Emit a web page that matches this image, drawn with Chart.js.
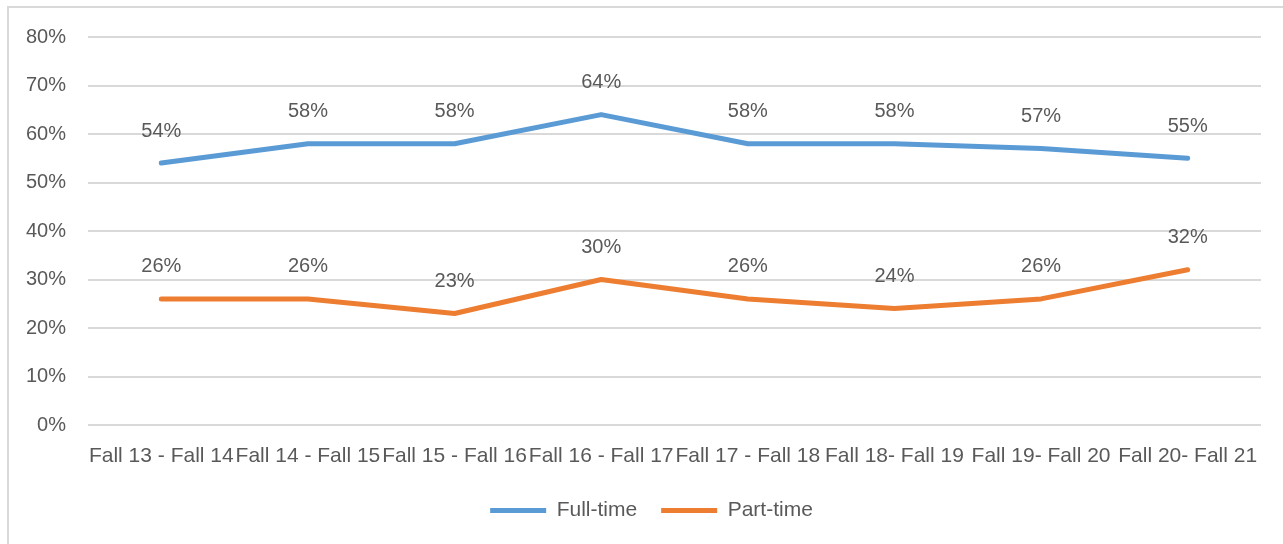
<!DOCTYPE html>
<html>
<head>
<meta charset="utf-8">
<script src="https://cdn.jsdelivr.net/npm/chart.js@4/dist/chart.umd.min.js"></script>
<style>
  html, body { margin: 0; padding: 0; background: #fff; overflow: hidden; }
  #wrap { position: relative; width: 1283px; height: 544px; }
  #frame { position: absolute; left: 7px; top: 6px; width: 1300px; height: 600px; border: 2px solid #D9D9D9; box-sizing: border-box; }
  canvas { position: absolute; left: 0; top: 0; }
</style>
</head>
<body>
<div id="wrap">
  <div id="frame"></div>
  <canvas id="c" width="1283" height="544"></canvas>
</div>
<script>
const categories = ["Fall 13 - Fall 14", "Fall 14 - Fall 15", "Fall 15 - Fall 16", "Fall 16 - Fall 17", "Fall 17 - Fall 18", "Fall 18- Fall 19", "Fall 19- Fall 20", "Fall 20- Fall 21"];
const fullTime = [54, 58, 58, 64, 58, 58, 57, 55];
const partTime = [26, 26, 23, 30, 26, 24, 26, 32];
const seriesNames = ["Full-time", "Part-time"];

const TEXT = "#595959";
const FONT = "'Liberation Sans', Arial, sans-serif";

const dataLabels = {
  id: "dataLabels",
  afterDatasetsDraw(chart) {
    const ctx = chart.ctx;
    ctx.save();
    ctx.font = "20px " + FONT;
    ctx.fillStyle = TEXT;
    ctx.textAlign = "center";
    ctx.textBaseline = "middle";
    chart.data.datasets.forEach((ds, i) => {
      const meta = chart.getDatasetMeta(i);
      meta.data.forEach((pt, j) => {
        ctx.fillText(ds.data[j] + "%", pt.x, pt.y - 32);
      });
    });
    ctx.restore();
  }
};

const legendShift = {
  id: "legendShift",
  afterLayout(chart) {
    if (chart.legend) {
      chart.legend.left += 21;
      chart.legend.right += 21;
    }
  }
};

new Chart(document.getElementById("c"), {
  type: "line",
  data: {
    labels: categories,
    datasets: [
      { label: seriesNames[0], data: fullTime, borderColor: "#5B9BD5", backgroundColor: "#5B9BD5", borderWidth: 5, pointRadius: 0, tension: 0, borderCapStyle: "round", borderJoinStyle: "round" },
      { label: seriesNames[1], data: partTime, borderColor: "#ED7D31", backgroundColor: "#ED7D31", borderWidth: 5, pointRadius: 0, tension: 0, borderCapStyle: "round", borderJoinStyle: "round" }
    ]
  },
  options: {
    responsive: false,
    animation: false,
    layout: { padding: { left: 0, right: 22, top: 37, bottom: 13 } },
    plugins: {
      tooltip: { enabled: false },
      legend: {
        position: "bottom",
        labels: {
          usePointStyle: true,
          pointStyle: "line",
          pointStyleWidth: 56,
          boxHeight: 21,
          padding: 24,
          color: TEXT,
          font: { family: FONT, size: 21 }
        }
      }
    },
    scales: {
      x: {
        offset: true,
        grid: { display: false, drawTicks: false },
        border: { display: false },
        ticks: { color: TEXT, font: { family: FONT, size: 21 }, padding: 19, maxRotation: 0, autoSkip: false },
        afterFit(s) { s.height = 51; }
      },
      y: {
        min: 0, max: 80,
        grid: { color: "#D9D9D9", lineWidth: 2, drawTicks: false },
        border: { display: false },
        ticks: { stepSize: 10, color: TEXT, font: { family: FONT, size: 20 }, padding: 22, callback: v => v + "%" },
        afterFit(s) { s.width = 88; }
      }
    }
  },
  plugins: [dataLabels, legendShift]
});
</script>
</body>
</html>
